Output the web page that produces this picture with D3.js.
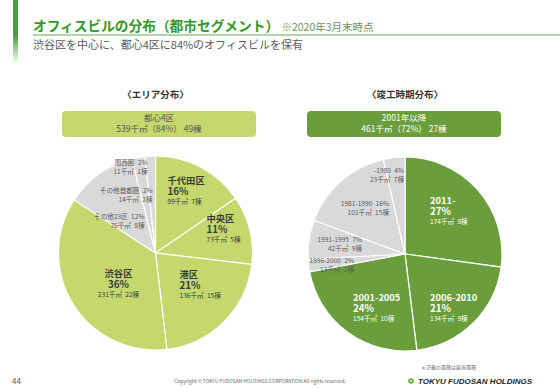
<!DOCTYPE html>
<html lang="ja">
<head>
<meta charset="UTF-8">
<title>オフィスビルの分布</title>
<style>
  body { margin: 0; background: #fff; }
  svg { display: block; font-family: "Noto Sans CJK JP", "Noto Sans", sans-serif; }
</style>
</head>
<body>
<script src="https://cdnjs.cloudflare.com/ajax/libs/d3/7.8.5/d3.min.js"></script>
<script>
'use strict';

// エリア分布 (area, 千㎡ / share % / buildings)
const areaNames = ['千代田区', '中央区', '港区', '渋谷区', 'その他23区', 'その他首都圏', '関西圏'];
const areaValues = [99, 73, 136, 231, 76, 14, 11];
const areaPcts = [16, 11, 21, 36, 12, 2, 2];
const areaCounts = [7, 5, 15, 22, 8, 2, 1];
const areaCore = [true, true, true, true, false, false, false];

// 竣工時期分布
const ageNames = ['2011-', '2006-2010', '2001-2005', '1996-2000', '1991-1995', '1981-1990', '-1980'];
const ageValues = [174, 134, 154, 13, 42, 101, 23];
const agePcts = [27, 21, 24, 2, 7, 16, 4];
const ageCounts = [8, 9, 10, 2, 9, 15, 7];
const ageNew = [true, true, true, false, false, false, false];

const W = 560, H = 388;
const svg = d3.select('body').append('svg').attr('width', W).attr('height', H);

// header bar with fade
const defs = svg.append('defs');
const grad = defs.append('linearGradient').attr('id', 'bar').attr('x1', 0).attr('x2', 0).attr('y1', 0).attr('y2', 1);
grad.append('stop').attr('offset', '0%').attr('stop-color', '#3fa535');
grad.append('stop').attr('offset', '55%').attr('stop-color', '#3fa535');
grad.append('stop').attr('offset', '100%').attr('stop-color', '#3fa535').attr('stop-opacity', 0);
svg.append('rect').attr('x', 13).attr('y', 0).attr('width', 5).attr('height', 64).attr('fill', 'url(#bar)');

const title = svg.append('text').attr('x', 33).attr('y', 31);
title.append('tspan').text('オフィスビルの分布（都市セグメント）')
  .attr('font-size', 13.7).attr('font-weight', 'bold').attr('fill', '#2f9a2a');
title.append('tspan').text(' ※2020年3月末時点')
  .attr('font-size', 10.5).attr('fill', '#6f8f5e');
svg.append('line').attr('x1', 33).attr('x2', 560).attr('y1', 35).attr('y2', 35)
  .attr('stroke', '#5db14f').attr('stroke-width', 1);
svg.append('text').attr('x', 33).attr('y', 49).attr('font-size', 11).attr('fill', '#595959')
  .text('渋谷区を中心に、都心4区に84%のオフィスビルを保有');

const R = 97;
const pie = d3.pie().sort(null).value(d => d);
const arc = d3.arc().innerRadius(0).outerRadius(R);
const gap = '\u2002';

function drawPie(cfg) {
  const g = svg.append('g').attr('transform', `translate(${cfg.cx},${cfg.cy})`);
  const arcs = pie(cfg.values);
  g.selectAll('path').data(arcs).enter().append('path')
    .attr('d', arc)
    .attr('fill', (d, i) => cfg.hi[i] ? cfg.color : '#d9d9d9')
    .attr('stroke', '#fff').attr('stroke-width', 1.2);

  arcs.forEach((d, i) => {
    const [dx, dy, anchor] = cfg.labelAt[i];
    const t = g.append('text').attr('text-anchor', anchor);
    const fg = cfg.hi[i] ? cfg.textHi : '#595959';
    const sub = `${cfg.values[i]}千㎡${gap}${cfg.counts[i]}棟`;
    if (cfg.hi[i]) {
      t.append('tspan').attr('x', dx).attr('y', dy).text(cfg.names[i])
        .attr('font-size', 9.3).attr('font-weight', 'bold').attr('fill', fg);
      t.append('tspan').attr('x', dx).attr('y', dy + 10.5).text(cfg.pcts[i] + '%')
        .attr('font-size', 9.8).attr('font-weight', 'bold').attr('fill', fg);
      t.append('tspan').attr('x', dx).attr('y', dy + 20).text(sub)
        .attr('font-size', 6.6).attr('fill', fg);
    } else {
      t.append('tspan').attr('x', dx).attr('y', dy).text(`${cfg.names[i]}${gap}${cfg.pcts[i]}%`)
        .attr('font-size', 6.6).attr('fill', fg);
      t.append('tspan').attr('x', dx).attr('y', dy + 9).text(sub)
        .attr('font-size', 6.6).attr('fill', fg);
    }
  });

  // heading + banner
  svg.append('text').attr('x', cfg.cx).attr('y', 98).attr('text-anchor', 'middle')
    .attr('font-size', 9.5).attr('font-weight', 'bold').attr('fill', '#333').text(cfg.heading);
  svg.append('rect').attr('x', cfg.bx).attr('y', 111).attr('width', 194).attr('height', 26)
    .attr('rx', 4).attr('fill', cfg.color);
  svg.append('text').attr('x', cfg.bx + 97).attr('y', 121).attr('text-anchor', 'middle')
    .attr('font-size', 8.5).attr('fill', cfg.bannerText).text(cfg.banner[0]);
  svg.append('text').attr('x', cfg.bx + 97).attr('y', 132).attr('text-anchor', 'middle')
    .attr('font-size', 8.5).attr('fill', cfg.bannerText).text(cfg.banner[1]);
}

drawPie({
  cx: 155.5, cy: 253, bx: 62,
  values: areaValues, names: areaNames, pcts: areaPcts, counts: areaCounts, hi: areaCore,
  color: '#c5d86d', textHi: '#3a3a3a', bannerText: '#555',
  heading: '〈エリア分布〉', banner: ['都心4区', '539千㎡（84%） 49棟'],
  labelAt: [[12, -69, 'start'], [51, -31, 'start'], [24, 25, 'start'], [-37, 24, 'middle'],
            [-11, -34, 'end'], [-3, -60, 'end'], [-8, -88, 'end']]
});

drawPie({
  cx: 405, cy: 254, bx: 307,
  values: ageValues, names: ageNames, pcts: agePcts, counts: ageCounts, hi: ageNew,
  color: '#6a9e3c', textHi: '#fff', bannerText: '#fff',
  heading: '〈竣工時期分布〉', banner: ['2001年以降', '461千㎡（72%） 27棟'],
  labelAt: [[25, -50, 'start'], [25, 47, 'start'], [-52, 47, 'start'], [-51, 9, 'end'],
            [-43, -12, 'end'], [-16, -48, 'end'], [-1, -81, 'end']]
});

// footer
svg.append('text').attr('x', 12).attr('y', 384).attr('font-size', 8).attr('fill', '#555').text('44');
svg.append('text').attr('x', 260).attr('y', 383).attr('text-anchor', 'middle').attr('font-size', 4.9)
  .attr('fill', '#666').text('Copyright © TOKYU FUDOSAN HOLDINGS CORPORATION All rights reserved.');
svg.append('text').attr('x', 421).attr('y', 369).attr('font-size', 5).attr('fill', '#666')
  .text('＊記載の面積は延床面積');
svg.append('circle').attr('cx', 411).attr('cy', 381).attr('r', 2.8).attr('fill', '#5cb531');
svg.append('circle').attr('cx', 411).attr('cy', 381).attr('r', 1).attr('fill', '#fff');
svg.append('text').attr('x', 418).attr('y', 384).attr('font-size', 8).attr('font-weight', 'bold')
  .attr('font-style', 'italic').attr('fill', '#1f1f1f').attr('font-family', 'Liberation Sans, sans-serif')
  .text('TOKYU FUDOSAN HOLDINGS');
</script>
</body>
</html>
